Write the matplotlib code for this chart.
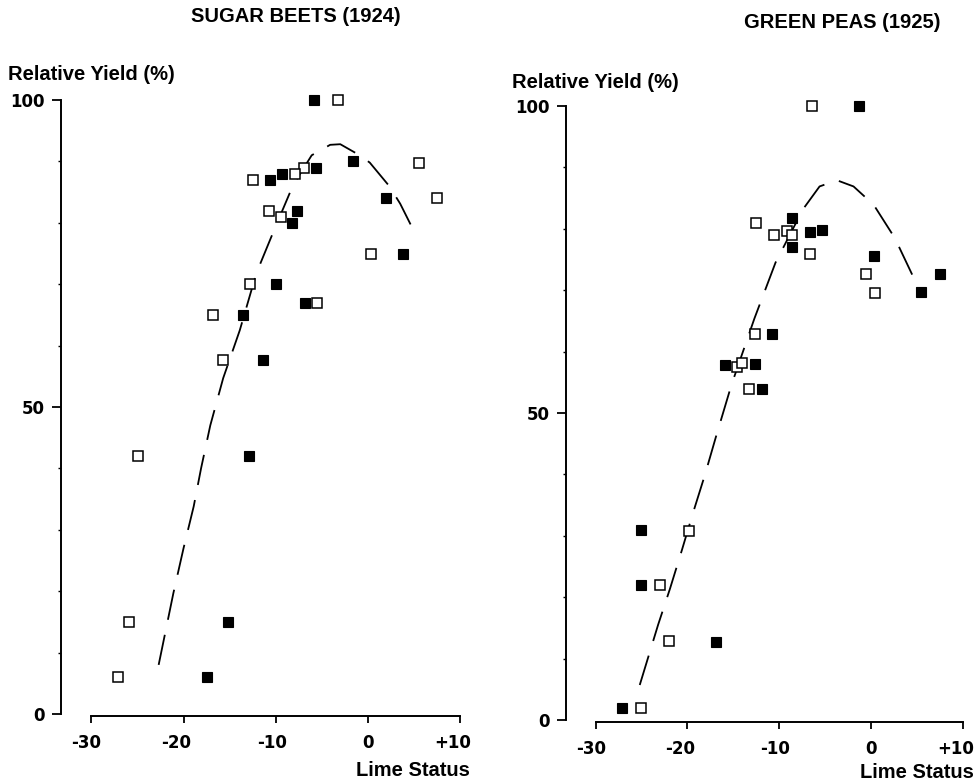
import matplotlib
matplotlib.use("Agg")
import matplotlib.pyplot as plt
from matplotlib.ticker import FixedLocator
from matplotlib.transforms import ScaledTranslation

# ---------------- data ----------------
# Sugar beets (1924)
beets_filled_x = [-5.9, -1.6, -5.6, -9.3, -10.6, 2.0, -7.7, -8.2, 3.8, -10.0, -6.8, -13.5, -11.4, -12.9, -15.2, -17.5]
beets_filled_y = [100, 90, 89, 88, 87, 84, 82, 80, 75, 70, 67, 65, 57.7, 42, 15, 6]
beets_open_x = [-3.3, 5.5, -6.9, -7.9, -12.5, 7.5, -10.7, -9.4, 0.3, -12.8, -5.5, -16.8, -15.7, -24.9, -25.9, -27.1]
beets_open_y = [100, 89.8, 89, 88, 87, 84, 82, 81, 75, 70, 67, 65, 57.7, 42, 15, 6]
beets_curve_x = [-22.7, -21.1, -20.0, -18.9, -18.1, -17.1, -15.7, -13.9, -12.1, -10.1, -8.1, -6.1, -4.1, -3.0, -0.9, 0.2, 2.3, 3.5, 4.9]
beets_curve_y = [8.0, 19.7, 27.0, 33.8, 40.0, 47.0, 54.7, 62.5, 71.8, 79.1, 86.2, 91.0, 92.7, 92.8, 91.0, 89.8, 86.0, 83.1, 78.9]

# Green peas (1925)
peas_filled_x = [-1.3, -8.6, -6.6, -5.3, -8.6, 0.3, 7.5, 5.4, -10.8, -15.9, -12.6, -11.9, -25.1, -25.1, -16.9, -27.1]
peas_filled_y = [100, 81.7, 79.5, 79.8, 77, 75.6, 72.7, 69.7, 62.8, 57.8, 58, 53.9, 30.9, 22, 12.7, 2]
peas_open_x = [-6.4, -12.5, -10.6, -9.1, -8.6, -6.6, -0.5, 0.4, -12.6, -14.6, -14.1, -13.3, -19.8, -23.0, -22.0, -25.1]
peas_open_y = [100, 81, 79, 79.7, 79, 75.9, 72.7, 69.6, 62.8, 57.5, 58.2, 53.9, 30.8, 22, 12.9, 2]
peas_curve_x = [-25.2, -23.2, -21.9, -20.6, -19.4, -18.1, -16.9, -15.7, -15.2, -12.7, -10.4, -7.4, -5.6, -3.7, -1.9, 0.3, 2.6, 4.6]
peas_curve_y = [5.7, 15.5, 21.4, 27.7, 33.7, 39.9, 46.1, 52.1, 54.6, 65.4, 74.5, 83.2, 86.9, 87.9, 86.9, 83.9, 78.5, 72.2]

x_ticks = [-30, -20, -10, 0, 10]
x_ticklabels = ["-30", "-20", "-10", "0", "+10"]
y_ticks = [0, 50, 100]
y_ticklabels = ["0", "50", "100"]
y_minor = [10, 20, 30, 40, 60, 70, 80, 90]

titles = ["SUGAR BEETS (1924)", "GREEN PEAS (1925)"]

# ---------------- figure ----------------
W, H = 979, 783
fig = plt.figure(figsize=(W / 100, H / 100), dpi=100)

LBL_FONT = "Liberation Sans"
TICK_FONT = "DejaVu Sans"
# small horizontal nudges (pixels) of the x tick labels, as in the original typesetting
x_label_nudge_px = [-5, -7, -4, 0, -7]


def make_ax(px_left, px_bottom, px_width, px_height, xlim):
    ax = fig.add_axes([px_left / W, 1 - px_bottom / H, px_width / W, px_height / H])
    ax.set_xlim(*xlim)
    ax.set_ylim(-1, 101)
    for s in ("top", "right"):
        ax.spines[s].set_visible(False)
    ax.spines["left"].set_bounds(0, 100)
    ax.spines["bottom"].set_bounds(-30, 10)
    ax.spines["bottom"].set_position(("data", -0.35))
    for s in ("left", "bottom"):
        ax.spines[s].set_linewidth(1.4)
    ax.set_xticks(x_ticks)
    ax.set_xticklabels(x_ticklabels)
    ax.set_yticks(y_ticks)
    ax.set_yticklabels(y_ticklabels)
    ax.yaxis.set_minor_locator(FixedLocator(y_minor))
    ax.tick_params(axis="y", which="major", direction="out", length=6.5, width=1.3, pad=5)
    ax.tick_params(axis="y", which="minor", direction="out", length=2.5, width=1.0)
    ax.tick_params(axis="x", which="major", direction="out", length=5, width=1.3, pad=8)
    for lab in ax.get_xticklabels() + ax.get_yticklabels():
        lab.set_fontfamily(TICK_FONT)
        lab.set_fontweight("bold")
        lab.set_fontsize(12)
    for lab, dx in zip(ax.get_xticklabels(), x_label_nudge_px):
        lab.set_transform(lab.get_transform() + ScaledTranslation(dx / 100, 0, fig.dpi_scale_trans))
    ax.patch.set_visible(False)
    return ax


def draw(ax, fx, fy, ox, oy, cx, cy):
    ax.plot(cx, cy, color="black", lw=1.3, linestyle=(0, (17, 8.5)),
            dash_capstyle="butt", clip_on=False)
    ax.plot(fx, fy, linestyle="none", marker="s", markersize=7.8, markerfacecolor="black",
            markeredgecolor="black", markeredgewidth=0.8, clip_on=False)
    ax.plot(ox, oy, linestyle="none", marker="s", markersize=7.2, markerfacecolor="white",
            markeredgecolor="black", markeredgewidth=1.1, clip_on=False)


# left: y spine at px 61, x=-30 at 91.3, 9.22 px/unit; y=0 at 714, 6.14 px/unit
ax1 = make_ax(61, 714 + 6.14, 409.3, 102 * 6.14, (-33.29, 11.1))
draw(ax1, beets_filled_x, beets_filled_y, beets_open_x, beets_open_y, beets_curve_x, beets_curve_y)

# right: y spine at px 565.7, x=-30 at 595.7, 9.175 px/unit; y=0 at 720
ax2 = make_ax(565.7, 720 + 6.14, 409.3, 102 * 6.14, (-33.27, 11.34))
draw(ax2, peas_filled_x, peas_filled_y, peas_open_x, peas_open_y, peas_curve_x, peas_curve_y)

txt_kw = dict(fontfamily=LBL_FONT, fontweight="bold", fontsize=14.5)
fig.text(296 / W, 1 - 16 / H, titles[0], ha="center", va="center", **txt_kw)
fig.text(842 / W, 1 - 22 / H, titles[1], ha="center", va="center", **txt_kw)
fig.text(8 / W, 1 - 75 / H, "Relative Yield (%)", ha="left", va="center", **txt_kw)
fig.text(512 / W, 1 - 82 / H, "Relative Yield (%)", ha="left", va="center", **txt_kw)
fig.text(470 / W, 1 - 770 / H, "Lime Status", ha="right", va="center", **txt_kw)
fig.text(974 / W, 1 - 772 / H, "Lime Status", ha="right", va="center", **txt_kw)

fig.savefig("out.png", dpi=100, facecolor="white")
